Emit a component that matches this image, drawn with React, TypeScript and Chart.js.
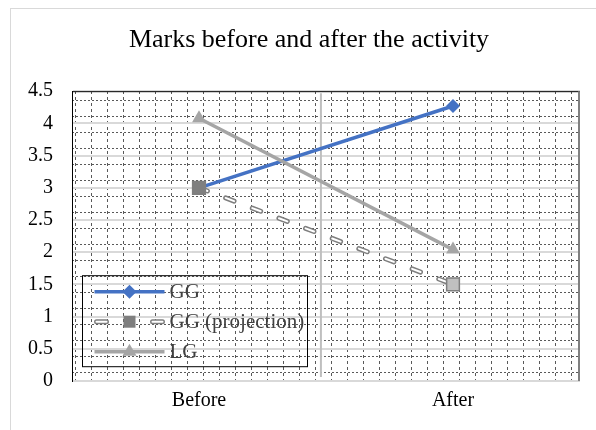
import React, { useEffect, useRef } from "react";
import { Chart, registerables } from "chart.js";

Chart.register(...registerables);

const categories = ["Before", "After"];
const ggValues = [3, 4.27];
const ggProjectionValues = [3, 1.5];
const lgValues = [4.08, 2.04];
const seriesNames = ["GG", "GG (projection)", "LG"];
const titleText = "Marks before and after the activity";

const yMin = 0;
const yMax = 4.5;
const yStep = 0.5;

const BLUE = "#4472C4";
const GRAY = "#A5A5A5";
const DARK_GRAY = "#7F7F7F";
const FONT = "'Liberation Serif', 'Times New Roman', serif";

const minorYTicks = Array.from({ length: 18 }, (_, i) => i);
const minorXTicks = Array.from({ length: 32 }, (_, i) => i);

const framePlugin = {
  id: "frameAndLegend",
  beforeDatasetsDraw(chart: any) {
    const { ctx, chartArea } = chart;
    const x = chart.scales.x;
    ctx.save();
    const mx = x.getPixelForValue(0.48);
    ctx.strokeStyle = "#BFBFBF";
    ctx.lineWidth = 2;
    ctx.beginPath();
    ctx.moveTo(mx, chartArea.top + 2);
    ctx.lineTo(mx, chartArea.bottom - 4);
    ctx.stroke();
    ctx.strokeStyle = "#000";
    ctx.lineWidth = 1;
    ctx.beginPath();
    ctx.moveTo(chartArea.left, chartArea.top + 0.5);
    ctx.lineTo(chartArea.right, chartArea.top + 0.5);
    ctx.stroke();
    ctx.strokeStyle = "#808080";
    ctx.lineWidth = 2;
    ctx.beginPath();
    ctx.moveTo(chartArea.right - 1, chartArea.top);
    ctx.lineTo(chartArea.right - 1, chartArea.bottom);
    ctx.stroke();
    ctx.restore();
  },
  afterDatasetsDraw(chart: any) {
    const { ctx, chartArea } = chart;
    ctx.save();
    const bx = chartArea.left + 10.5;
    const by = chartArea.top + 184.5;
    const bw = 225;
    const bh = 91;
    ctx.strokeStyle = "#000";
    ctx.lineWidth = 1;
    ctx.strokeRect(bx, by, bw, bh);
    const sx0 = bx + 12;
    const sx1 = bx + 82;
    const mx = (sx0 + sx1) / 2;
    const rows = [by + 16, by + 46, by + 76];
    ctx.strokeStyle = BLUE;
    ctx.lineWidth = 3.5;
    ctx.beginPath();
    ctx.moveTo(sx0, rows[0]);
    ctx.lineTo(sx1, rows[0]);
    ctx.stroke();
    ctx.fillStyle = BLUE;
    ctx.beginPath();
    ctx.moveTo(mx, rows[0] - 7);
    ctx.lineTo(mx + 7, rows[0]);
    ctx.lineTo(mx, rows[0] + 7);
    ctx.lineTo(mx - 7, rows[0]);
    ctx.closePath();
    ctx.fill();
    ctx.lineCap = "round";
    const segs = [
      [sx0 + 2, sx0 + 12],
      [sx1 - 12, sx1 - 2],
    ];
    for (const [a, b] of segs) {
      ctx.strokeStyle = DARK_GRAY;
      ctx.lineWidth = 5;
      ctx.beginPath();
      ctx.moveTo(a, rows[1]);
      ctx.lineTo(b, rows[1]);
      ctx.stroke();
      ctx.strokeStyle = "#fff";
      ctx.lineWidth = 2;
      ctx.beginPath();
      ctx.moveTo(a, rows[1]);
      ctx.lineTo(b, rows[1]);
      ctx.stroke();
    }
    ctx.lineCap = "butt";
    ctx.fillStyle = DARK_GRAY;
    ctx.fillRect(mx - 6, rows[1] - 6, 12, 12);
    ctx.strokeStyle = GRAY;
    ctx.lineWidth = 3.5;
    ctx.beginPath();
    ctx.moveTo(sx0, rows[2]);
    ctx.lineTo(sx1, rows[2]);
    ctx.stroke();
    ctx.fillStyle = GRAY;
    ctx.beginPath();
    ctx.moveTo(mx, rows[2] - 8);
    ctx.lineTo(mx + 7, rows[2] + 4);
    ctx.lineTo(mx - 7, rows[2] + 4);
    ctx.closePath();
    ctx.fill();
    ctx.fillStyle = "#404040";
    ctx.font = `21px ${FONT}`;
    ctx.textBaseline = "middle";
    ctx.textAlign = "left";
    seriesNames.forEach((n, i) => ctx.fillText(n, sx1 + 5, rows[i] + 1));
    ctx.restore();
  },
};

export default function App() {
  const ref = useRef<HTMLCanvasElement>(null);
  useEffect(() => {
    if (!ref.current) return;
    const common = { xAxisID: "x", yAxisID: "y" };
    const chart = new Chart(ref.current, {
      type: "line",
      data: {
        labels: categories,
        datasets: [
          {
            ...common,
            label: seriesNames[2],
            data: lgValues,
            borderColor: GRAY,
            backgroundColor: GRAY,
            borderWidth: 3.5,
            pointStyle: "triangle",
            pointRadius: 8,
            pointBorderWidth: 0,
            order: 0,
          },
          {
            ...common,
            label: seriesNames[1],
            data: ggProjectionValues,
            showLine: false,
            pointStyle: "rect",
            pointRadius: 9,
            pointBackgroundColor: [DARK_GRAY, "#C0C0C0"],
            pointBorderColor: DARK_GRAY,
            pointBorderWidth: 1.5,
            order: 1,
          },
          {
            ...common,
            label: seriesNames[1] + " inner",
            data: ggProjectionValues,
            borderColor: "#FFFFFF",
            borderWidth: 2,
            borderDash: [9, 19.5],
            borderCapStyle: "round",
            pointRadius: 0,
            order: 2,
          },
          {
            ...common,
            label: seriesNames[1] + " outline",
            data: ggProjectionValues,
            borderColor: DARK_GRAY,
            borderWidth: 5,
            borderDash: [9, 19.5],
            borderCapStyle: "round",
            pointRadius: 0,
            order: 3,
          },
          {
            ...common,
            label: seriesNames[0],
            data: ggValues,
            borderColor: BLUE,
            backgroundColor: BLUE,
            borderWidth: 3.5,
            pointStyle: "rectRot",
            pointRadius: 7,
            pointBorderWidth: 0,
            order: 4,
          },
        ],
      },
      options: {
        responsive: false,
        animation: false,
        layout: { padding: { left: 22, right: 0, top: 0, bottom: 0 } },
        plugins: {
          legend: { display: false },
          tooltip: { enabled: false },
          title: {
            display: true,
            text: titleText,
            color: "#000",
            font: { family: FONT, size: 26, weight: "normal", lineHeight: 1.2 },
            padding: { top: 25, bottom: 35 },
          },
        },
        scales: {
          x: {
            type: "category",
            offset: true,
            grid: { display: false, drawTicks: false },
            border: { display: false },
            ticks: { color: "#000", font: { family: FONT, size: 20 }, padding: 8 },
            afterFit: (s: any) => {
              s.height = 49;
            },
          },
          x2: {
            type: "linear",
            position: "top",
            min: -0.1875,
            max: 31.5625,
            afterBuildTicks: (s: any) => {
              s.ticks = minorXTicks.map((v) => ({ value: v }));
            },
            ticks: { display: false },
            grid: { color: "#595959", lineWidth: 1, drawTicks: false },
            border: { display: false, dash: [3, 3] },
          },
          y2: {
            type: "linear",
            position: "right",
            min: -0.5625,
            max: 17.5625,
            afterBuildTicks: (s: any) => {
              s.ticks = minorYTicks.map((v) => ({ value: v }));
            },
            ticks: { display: false },
            grid: { color: "#595959", lineWidth: 1, drawTicks: false },
            border: { display: false, dash: [2, 2] },
            afterFit: (s: any) => {
              s.width = 16;
            },
          },
          y: {
            type: "linear",
            position: "left",
            min: yMin,
            max: yMax,
            ticks: {
              stepSize: yStep,
              color: "#000",
              font: { family: FONT, size: 20 },
              padding: 19,
              callback: (v: any) => String(Math.round(Number(v) * 10) / 10),
            },
            grid: { color: "#D9D9D9", lineWidth: 2, drawTicks: false },
            border: { display: true, color: "#000", width: 1 },
            afterFit: (s: any) => {
              s.width = 50;
            },
          },
        },
      },
      plugins: [framePlugin],
    } as any);
    return () => chart.destroy();
  }, []);

  return (
    <div style={{ position: "absolute", left: 0, top: 0, width: 596, height: 430, background: "#fff", overflow: "hidden" }}>
      <div
        style={{
          position: "absolute",
          left: 10,
          top: 8,
          width: 620,
          height: 460,
          border: "1px solid #D9D9D9",
        }}
      />
      <canvas ref={ref} width={596} height={430} style={{ position: "absolute", left: 0, top: 0, width: 596, height: 430 }} />
    </div>
  );
}
